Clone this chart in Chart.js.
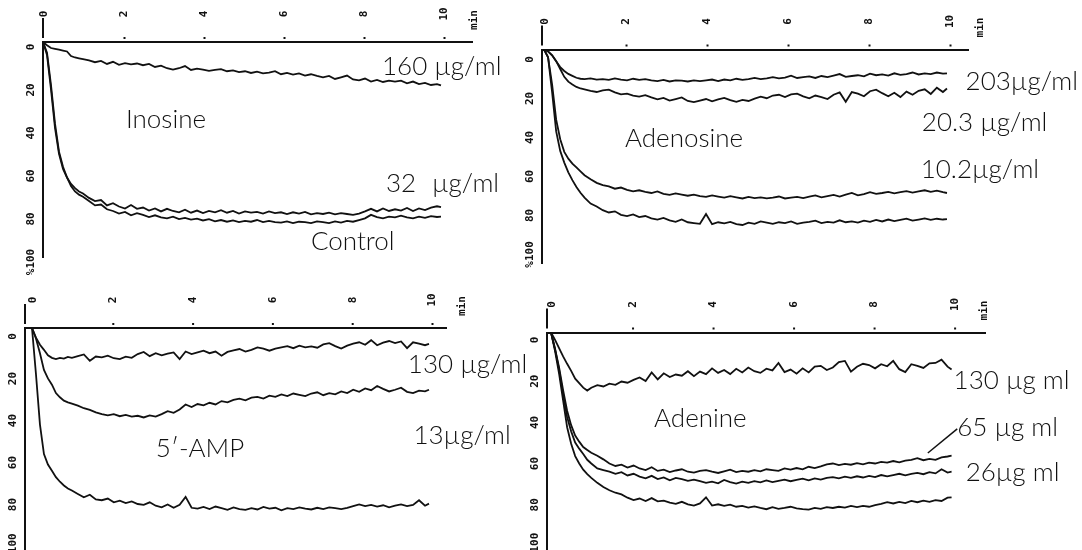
<!DOCTYPE html>
<html>
<head>
<meta charset="utf-8">
<script src="https://cdn.jsdelivr.net/npm/chart.js@4.4.1/dist/chart.umd.min.js"></script>
<style>
  html, body { margin: 0; padding: 0; background: #fff; }
  #wrap { position: relative; width: 1082px; height: 550px; overflow: hidden; background: #fff; }
  #wrap canvas { position: absolute; left: 0; top: 0; }
</style>
</head>
<body>
<div id="wrap">
  <canvas id="inosine" width="1082" height="550"></canvas>
  <canvas id="adenosine" width="1082" height="550"></canvas>
  <canvas id="amp" width="1082" height="550"></canvas>
  <canvas id="adenine" width="1082" height="550"></canvas>
</div>
<script>
// Sampling times (min) shared by every trace
const minutes = [0,0.1,0.2,0.3,0.4,0.5,0.6,0.7,0.8,0.9,
  1.0,1.15,1.3,1.45,1.6,1.75,1.9,2.05,2.2,2.35,
  2.5,2.65,2.8,2.95,3.1,3.25,3.4,3.55,3.7,3.85,
  4.0,4.15,4.3,4.45,4.6,4.75,4.9,5.05,5.2,5.35,
  5.5,5.65,5.8,5.95,6.1,6.25,6.4,6.55,6.7,6.85,
  7.0,7.15,7.3,7.45,7.6,7.75,7.9,8.05,8.2,8.35,
  8.5,8.65,8.8,8.95,9.1,9.25,9.4,9.55,9.7,9.85,
  9.95];

const xTicks = [0, 2, 4, 6, 8, 10];
const yTicks = [0, 20, 40, 60, 80, 100];
const yTickLabels = ['0', '20', '40', '60', '80', '%100'];

// Aggregation (%) — Inosine
const inosine160 = [0,1.5,2.8,3.2,3.6,4.0,4.4,6.5,7.2,7.6,
  8.0,8.6,9.4,8.8,10.2,9.2,10.6,9.8,10.4,10.0,
  10.8,10.2,11.6,11.0,12.2,12.8,12.2,11.2,13.0,12.4,
  12.8,13.4,13.0,12.6,13.6,13.2,14.0,13.6,14.4,13.8,
  14.6,14.2,13.6,15.0,14.4,15.2,14.6,15.6,15.0,15.8,
  16.4,15.8,17.2,16.4,15.6,17.4,17.8,17.0,18.4,17.6,
  18.6,18.0,18.4,18.0,19.2,18.4,19.6,19.0,20.0,19.6,
  20.2];
const inosine32 = [0,6,22,40,52,59,63,66,68,69.5,
  70.5,72.5,74,73.5,76,75,76.5,77.5,75.8,77.6,
  77,78.4,77.4,78.8,77.6,78.6,79.2,78,79.4,78.4,
  79.6,78.6,79.2,78.2,79.4,78.6,79.8,78.8,79.4,79,
  79.8,78.8,79.6,79.2,80,79.2,79.8,79,80.2,79.6,
  80,79.4,80.2,79.6,80,80.4,79.8,78.8,77.6,78.8,
  77.4,78.6,77.8,78.4,77.2,78.6,77.4,78.2,77,76.4,
  76.8];
const inosineControl = [0,5,20,38,51,58,63,67,69.5,71,
  72,74,76,75.6,77.8,78.6,79.8,79,80.6,79.6,
  80.4,81.4,80.6,81.6,82,81.2,82.4,81.8,82.6,82.2,
  83,82.4,83.4,82.8,83.6,83,83.8,83.2,83.6,82.8,
  83.8,83.2,83.8,84,83.4,84.2,83.6,83.8,84.2,83.4,
  83.8,84.2,83.4,84,83.2,83.6,82.8,82,80.4,81.4,
  82,81.2,81.6,80.8,81.6,82,81.2,81.8,81,81.4,
  81.2];

// Aggregation (%) — Adenosine
const adenosine203 = [0,1,3,6,9,11,12.5,13.5,14.5,15,
  15.2,14.8,15.4,15.2,15.6,14.8,15.4,15.8,15,15.6,
  15.2,15.8,16.2,15.6,16.4,15.8,16,16.4,15.8,16.2,
  15.8,15.4,16.2,15.4,15.8,15,15.6,15.2,14.6,15.2,
  14.8,14.2,14.8,14.4,13.4,14.6,14.2,13.8,14.6,13.6,
  14.2,13.4,12.6,14,13.6,13.2,13.8,12.4,13.2,12.8,
  13.4,12.2,13,12.6,11.8,12.8,12.2,12.6,11.8,12.4,
  12.2];
const adenosine20 = [0,1,3,6,10,14,16.5,18,19.2,20,
  20.4,21.2,21.8,21,20.6,22,23,22.6,23.6,24.2,
  23.4,24.6,25.6,24.8,26.2,25.4,24.6,26.4,27,26.2,
  25.4,26.6,25.6,24.8,26,26.8,25.8,26.4,25.2,24.2,
  25,23.6,23.2,24.4,23,22.6,24,25,23.6,24.4,
  25.4,23.2,22,26.8,21.8,22.6,24,21.4,20.6,22.4,
  24,22.2,24.4,21.6,23.2,21.2,20.4,22.8,19.6,21.8,
  20];
const adenosine10 = [0,4,18,36,46,52.5,56,58.5,60.5,62.5,
  64.5,66.5,68.4,69.6,70.2,71.4,70.8,72,72.8,72.2,
  73,73.6,72.8,74,74.6,73.8,74.4,75,74.4,75.2,
  75.6,74.8,75.4,76,75.2,75.8,76.4,75.6,76.2,75.8,
  76.4,76,75.4,76.4,76,75.6,76.2,75.4,74.8,75.8,
  75.2,74.6,75.4,74.4,73.6,74.8,74.2,73.2,74,73.6,
  73,73.8,73.2,72.6,73.4,72.8,72.2,73,72.4,73.2,
  73.6];
const adenosineControl = [0,4,22,42,52,58,63,67,70.5,73.5,
  76,79,80.5,82.4,83.6,83,84.8,85.4,84.6,86,
  85.4,86.6,87.2,86.4,87.6,88.4,87.2,88.6,89,89.4,
  84.4,89.6,88.6,89.2,88.4,89.6,90,88.8,89.4,88.2,
  88.8,89.4,88.6,89,88.2,89.4,88.8,88.4,87.8,89,
  88.4,88.8,87.6,88.6,88.2,88.8,87.8,88.4,87.4,88.2,
  87.2,88,87.4,86.8,87.8,87.2,86.6,87.4,86.8,87.2,
  87];

// Aggregation (%) — 5'-AMP
const amp130 = [0,4.6,8,10.4,13,14.2,14.8,14.2,14.6,13.8,
  14.2,13.4,12.6,15.6,13.6,14,13.2,14.4,14.8,13.6,
  14.2,12.4,11.4,13.4,12,13,12.2,11.6,14.8,11.2,
  12.4,11.6,10.8,12,11.2,13.2,11.4,10.6,10,11.2,
  10.4,9.2,9.8,10.8,9.8,9.2,8.6,9.6,8.4,9.2,
  8.8,9.4,7.8,7.2,8.6,9.8,8.4,7.4,6.8,8,
  5.8,8.2,7,6.2,7.2,6.4,9.6,6.8,7.4,8.2,
  7.6];
const amp13 = [0,5,12,20,24,27,31,33,34.6,35.4,
  36,37,38.2,39,40.2,41,41.6,41,42,41.4,
  42.2,41.8,42.6,41.6,42.2,41,39.6,40.4,38.8,36.4,
  37.6,36.2,36.8,35.6,36.4,34.8,35.4,34.2,33.6,34.4,
  33.2,32.8,33.6,32.2,32.8,31.6,32.4,31.2,31.8,32.4,
  31.2,30.6,32,31,31.6,30.2,31,29.4,30.4,28.8,
  29.6,27.6,29,30.2,29.4,28.4,30.4,31,29.8,30.2,
  29.4];
const ampControl = [0,22,46,60,65,68,71,73.2,75,76.4,
  77.4,79,80.6,79.4,81.6,82,81.2,83,82.2,83.4,
  82.6,83.8,84.2,83,84.6,85.4,84,85.6,84.2,80.4,
  85.6,86,85.2,86.2,85,85.8,86.6,85.4,86.2,86.6,
  85.8,86.4,85.2,86,85.6,86.8,85.8,86.2,85.4,86,
  86.4,85.6,86.2,85.4,85.8,86.2,85.6,84.8,84,84.8,
  84.2,85,84.4,85.4,84.6,84,84.8,84.2,82,84.6,
  83.6];

// Aggregation (%) — Adenine
const adenine130 = [0,3.6,7.6,11.6,15.2,18.6,22.4,24.6,26.8,28.2,
  26.8,25.6,26.2,24.8,25.4,23.8,24.4,23,21.8,23.6,
  19.4,22.8,19.8,21.6,20.4,21,18.8,21.2,19,20.2,
  17.4,19.6,18.2,20.2,17.6,19.4,17,18.8,19.6,17.6,
  18.4,14.8,19.2,18,20,17.4,19.4,16.6,16.2,18.2,
  17,14.4,13.8,19,16.6,15.2,15.8,17.4,15.4,16.4,
  13.8,17.8,19.2,15.4,16.2,17.2,15,14.8,13.2,16.6,
  18];
const adenine65 = [0,8,17,28,38,45,50,53,55.6,57,
  58.4,59.8,61.6,63.6,64.8,64.2,65.6,64.6,66,66.8,
  65.4,67.2,66.6,67.8,67,66.4,67.6,68,67.2,66.8,
  67.6,68.2,67.4,66.6,67.8,67.2,67.6,66.8,67.4,66.4,
  66.8,67.2,66,66.6,65.8,66.4,65.2,65.8,65,64,
  63.6,64.4,63.8,64.2,63.4,64,63.2,63.6,62.8,63.2,
  62.4,63,62.2,61.8,61,62,61.4,61.8,60.6,60.2,
  59.8];
const adenine26 = [0,8,18,30,41,48,53.4,56.4,59,61.8,
  63.6,66,66.8,67.6,68.6,67.8,69.4,68.6,70,70.8,
  69.6,71.2,70.4,71.8,70.6,71.2,72,71.4,72.2,73,
  72.4,73.2,71.6,72.6,73.4,72.4,73,72.2,72.8,71.8,
  72.6,72,71.4,72.2,71.6,71,71.8,70.8,71.4,70.6,
  70.2,70.8,70,70.6,69.8,70.4,69.6,70.2,69.2,69.8,
  69.2,68.6,69.4,68.6,68.2,68.8,67.8,68.4,66.4,68,
  67.6];
const adenineControl = [0,9,20,33,46,54,60,63.6,66.6,68.8,
  70.6,73,75,76.6,77.8,78.6,80.2,81.4,80.6,81.8,
  80.4,82,81.6,82.6,83.2,82.2,83.4,84,83,80,
  84,83.4,84.2,83.6,84.6,84.2,85,84.4,85.2,85.8,
  84.8,85.6,85.2,84.6,85.4,85.8,86,85.2,85.6,84.8,
  85.2,84.6,85,84.2,84.8,84.2,84.6,83.8,83.2,82.4,
  83,82.2,82.8,81.8,82.4,81.6,82.2,81.4,81.8,80.2,
  80];

const ink = '#111111';

// Panel layout (page pixels) and text notes placed in data units
const panels = [
  { canvas: 'inosine', box: { left: 43, top: 42, right: 472, bottom: 257 },
    x: { min: 0, max: 10.725 }, y: { max: 100 }, labelShift: 5,
    traces: [inosine160, inosine32, inosineControl],
    notes: [
      { text: '160 µg/ml', t: 8.475, v: 15.3 },
      { text: 'Inosine', t: 2.075, v: 40 },
      { text: '32', t: 8.575, v: 69.8 },
      { text: 'µg/ml', t: 9.725, v: 69.8 },
      { text: 'Control', t: 6.7, v: 96.7 }
    ], leaders: [] },
  { canvas: 'adenosine', box: { left: 542, top: 49.5, right: 968, bottom: 263 },
    x: { min: -0.05, max: 10.469 }, y: { max: 109.5 }, labelShift: 10,
    traces: [adenosine203, adenosine20, adenosine10, adenosineControl],
    notes: [
      { text: '203µg/ml', t: 10.41, v: 20.8 },
      { text: '20.3 µg/ml', t: 9.33, v: 41.8 },
      { text: 'Adenosine', t: 2.0, v: 50 },
      { text: '10.2µg/ml', t: 9.3, v: 65.9 }
    ], leaders: [] },
  { canvas: 'amp', box: { left: 25, top: 328, right: 446, bottom: 550 },
    x: { min: -0.175, max: 10.376 }, y: { max: 105.7 }, labelShift: 8.5,
    traces: [amp130, amp13, ampControl],
    notes: [
      { text: '130 µg/ml', t: 9.42, v: 21.2 },
      { text: '13µg/ml', t: 9.56, v: 55.4 },
      { text: '5′-AMP', t: 3.1, v: 61.5 }
    ], leaders: [] },
  { canvas: 'adenine', box: { left: 547, top: 332.5, right: 985, bottom: 550 },
    x: { min: -0.1, max: 10.78 }, y: { max: 105.6 }, labelShift: 7.5,
    traces: [adenine130, adenine65, adenine26, adenineControl],
    notes: [
      { text: '130 µg ml', t: 10.0, v: 27.4 },
      { text: 'Adenine', t: 2.56, v: 45.9 },
      { text: '65 µg ml', t: 10.09, v: 50.2 },
      { text: '26µg ml', t: 10.3, v: 72.1 }
    ], leaders: [ { from: [9.36, 58.5], to: [10.09, 46.8] } ] }
];

function rotatedText(ctx, text, px, py) {
  ctx.save();
  ctx.translate(px, py);
  ctx.rotate(-Math.PI / 2);
  ctx.fillText(text, 0, 0);
  ctx.restore();
}

// Recorder-style decorations: rotated tick labels, origin stub, notes
const recorderAxes = {
  id: 'recorderAxes',
  afterDraw(chart, args, opts) {
    const { ctx, chartArea: a } = chart;
    const xs = chart.scales.x, ys = chart.scales.y;
    ctx.save();
    ctx.fillStyle = ink;
    ctx.strokeStyle = ink;

    ctx.lineWidth = 2;
    ctx.beginPath();
    ctx.moveTo(a.left, a.top - 24);
    ctx.lineTo(a.left, a.top - 4);
    ctx.stroke();

    ctx.font = 'bold 11px "DejaVu Sans Mono", monospace';
    ctx.textAlign = 'center';
    ctx.textBaseline = 'middle';
    xTicks.forEach(v => {
      const px = xs.getPixelForValue(v) + 1.5;
      rotatedText(ctx, String(v), px, a.top - 28);
      if (v > 0) ctx.fillRect(px - 1, a.top - 5, 2, 2);
    });
    rotatedText(ctx, 'min', xs.getPixelForValue(10) + 31, a.top - 22);
    yTicks.forEach((v, i) => {
      rotatedText(ctx, yTickLabels[i], a.left - 12, ys.getPixelForValue(v) + opts.labelShift);
    });

    ctx.font = '300 26px Lato, "Liberation Sans", sans-serif';
    ctx.textAlign = 'left';
    ctx.textBaseline = 'alphabetic';
    opts.notes.forEach(n => {
      ctx.fillText(n.text, xs.getPixelForValue(n.t), ys.getPixelForValue(n.v));
    });

    ctx.lineWidth = 1.5;
    opts.leaders.forEach(l => {
      ctx.beginPath();
      ctx.moveTo(xs.getPixelForValue(l.from[0]), ys.getPixelForValue(l.from[1]));
      ctx.lineTo(xs.getPixelForValue(l.to[0]), ys.getPixelForValue(l.to[1]));
      ctx.stroke();
    });
    ctx.restore();
  }
};

function trace(values) {
  return {
    data: minutes.map((t, i) => ({ x: t, y: values[i] })),
    borderColor: ink,
    borderWidth: 1.8,
    pointRadius: 0,
    tension: 0,
    fill: false
  };
}

const axisBorder = { display: true, width: 2, color: ink };

panels.forEach(p => {
  new Chart(document.getElementById(p.canvas), {
    type: 'line',
    data: { datasets: p.traces.map(trace) },
    options: {
      responsive: false,
      animation: false,
      devicePixelRatio: 1,
      layout: { padding: {
        left: p.box.left, top: p.box.top,
        right: 1082 - p.box.right, bottom: 550 - p.box.bottom } },
      plugins: {
        legend: { display: false },
        tooltip: { enabled: false },
        recorderAxes: { labelShift: p.labelShift, notes: p.notes, leaders: p.leaders }
      },
      scales: {
        x: { type: 'linear', position: 'top', min: p.x.min, max: p.x.max,
             grid: { display: false, drawTicks: false },
             ticks: { display: false }, border: axisBorder },
        y: { type: 'linear', position: 'left', reverse: true, min: 0, max: p.y.max,
             grid: { display: false, drawTicks: false },
             ticks: { display: false }, border: axisBorder }
      }
    },
    plugins: [recorderAxes]
  });
});
</script>
</body>
</html>
